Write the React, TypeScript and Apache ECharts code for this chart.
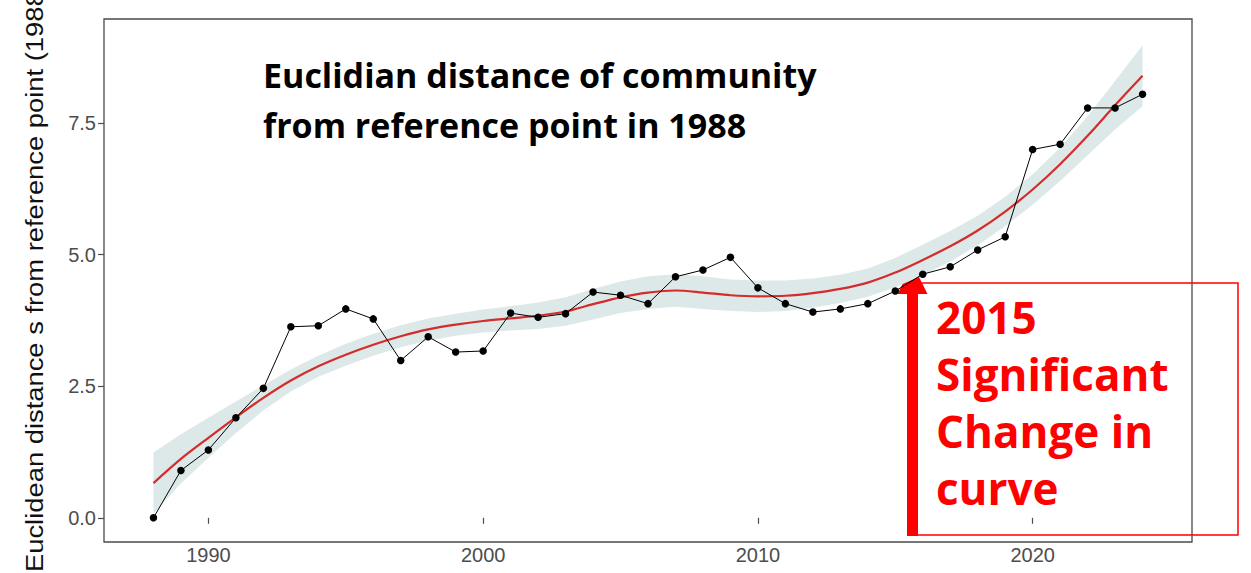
import React, { useEffect, useRef } from "react";
import * as echarts from "echarts";

const years = [
  1988, 1989, 1990, 1991, 1992, 1993, 1994, 1995, 1996, 1997, 1998, 1999,
  2000, 2001, 2002, 2003, 2004, 2005, 2006, 2007, 2008, 2009, 2010, 2011,
  2012, 2013, 2014, 2015, 2016, 2017, 2018, 2019, 2020, 2021, 2022, 2023, 2024,
];
const distance = [
  0.0, 0.9, 1.29, 1.9, 2.46, 3.63, 3.65, 3.97, 3.78, 2.99, 3.44, 3.15,
  3.17, 3.89, 3.81, 3.88, 4.29, 4.23, 4.07, 4.58, 4.71, 4.95, 4.37, 4.07,
  3.91, 3.97, 4.07, 4.31, 4.63, 4.77, 5.09, 5.34, 7.0, 7.1, 7.79, 7.79, 8.05,
];
const fitted = [
  0.66, 1.12, 1.52, 1.91, 2.28, 2.61, 2.88, 3.1, 3.29, 3.45, 3.58, 3.67,
  3.74, 3.79, 3.84, 3.92, 4.06, 4.19, 4.28, 4.32, 4.28, 4.23, 4.21, 4.22,
  4.27, 4.35, 4.47, 4.66, 4.9, 5.16, 5.46, 5.82, 6.24, 6.72, 7.26, 7.84, 8.4,
];
const ribbonLow = [
  0.08, 0.65, 1.14, 1.61, 2.04, 2.4, 2.68, 2.89, 3.08, 3.24, 3.37, 3.46,
  3.52, 3.56, 3.59, 3.65, 3.77, 3.89, 3.97, 4.01, 3.97, 3.93, 3.91, 3.93,
  3.99, 4.08, 4.2, 4.38, 4.61, 4.87, 5.18, 5.54, 5.95, 6.4, 6.89, 7.38, 7.82,
];
const ribbonHigh = [
  1.24, 1.59, 1.9, 2.21, 2.52, 2.82, 3.08, 3.31, 3.5, 3.66, 3.79, 3.88,
  3.96, 4.02, 4.09, 4.19, 4.35, 4.49, 4.59, 4.63, 4.59, 4.53, 4.51, 4.51,
  4.55, 4.62, 4.74, 4.94, 5.19, 5.45, 5.74, 6.1, 6.53, 7.04, 7.63, 8.3, 8.98,
];
const xTicks = [1990, 2000, 2010, 2020];
const yTicks = [0, 2.5, 5, 7.5];
const titleLines = ["Euclidian distance of community", "from reference point in 1988"];
const noteLines = ["2015", "Significant", "Change in", "curve"];
const yAxisTitle = "Euclidean distance s from reference point (1988)";

export default function App() {
  const ref = useRef<HTMLDivElement>(null);

  useEffect(() => {
    const el = ref.current;
    if (!el) return;
    const chart = echarts.init(el, null, { renderer: "svg" });

    const axisGrey = "#4d4d4d";
    const tickFont = "Liberation Sans";

    const option: any = {
      animation: false,
      backgroundColor: "#ffffff",
      grid: {
        left: 104,
        right: 59,
        top: 19,
        bottom: 31,
        show: true,
        borderColor: "#4a4a4a",
        borderWidth: 1.3,
        backgroundColor: "transparent",
      },
      xAxis: {
        type: "value",
        min: 1986.2,
        max: 2025.8,
        axisLine: { show: false },
        splitLine: { show: false },
        axisTick: {
          show: true,
          customValues: xTicks,
          length: 6,
          lineStyle: { color: axisGrey, width: 1.2 },
        },
        axisLabel: {
          customValues: xTicks,
          fontSize: 20,
          fontFamily: tickFont,
          color: axisGrey,
          margin: 3,
          formatter: (v: number) => String(v),
        },
      },
      yAxis: {
        type: "value",
        min: -0.46,
        max: 9.48,
        axisLine: { show: false },
        splitLine: { show: false },
        axisTick: {
          show: true,
          customValues: yTicks,
          length: 6,
          lineStyle: { color: axisGrey, width: 1.2 },
        },
        axisLabel: {
          customValues: yTicks,
          fontSize: 20,
          fontFamily: tickFont,
          color: axisGrey,
          margin: 8,
          formatter: (v: number) => v.toFixed(1),
        },
      },
      series: [
        {
          type: "custom",
          name: "ribbon",
          silent: true,
          z: 1,
          data: years.map((y, i) => [y, ribbonLow[i], ribbonHigh[i]]),
          encode: { x: 0, y: [1, 2] },
          renderItem: (params: any, api: any) => {
            if (params.dataIndex !== 0) return null;
            const upper = years.map((y, i) => api.coord([y, ribbonHigh[i]]));
            const lower = years.map((y, i) => api.coord([y, ribbonLow[i]])).reverse();
            return {
              type: "polygon",
              shape: { points: upper.concat(lower) },
              style: { fill: "#dde9e8", stroke: "none" },
            };
          },
        },
        {
          type: "line",
          name: "fit",
          z: 3,
          data: years.map((y, i) => [y, fitted[i]]),
          smooth: 0.3,
          symbol: "none",
          lineStyle: { color: "#d42b2b", width: 2.2 },
        },
        {
          type: "line",
          name: "distance",
          z: 4,
          data: years.map((y, i) => [y, distance[i]]),
          symbol: "circle",
          symbolSize: 7.5,
          itemStyle: { color: "#000000" },
          lineStyle: { color: "#000000", width: 1 },
        },
      ],
      graphic: [
        {
          type: "text",
          x: 35,
          y: 572,
          rotation: Math.PI / 2,
          scaleX: 1.14,
          style: {
            text: yAxisTitle,
            font: "24px 'Liberation Sans'",
            fill: "#111111",
            textAlign: "left",
            textVerticalAlign: "middle",
          },
        },
        ...titleLines.map((t, i) => ({
          type: "text",
          x: 263,
          y: 92 + i * 50,
          style: {
            text: t,
            font: "bold 34px 'Open Sans'",
            fill: "#000000",
            textAlign: "left",
            textVerticalAlign: "bottom",
          },
        })),
        {
          type: "rect",
          shape: { x: 917, y: 283, width: 321, height: 252 },
          style: { fill: "none", stroke: "#ff0000", lineWidth: 1.5 },
        },
        {
          type: "rect",
          shape: { x: 907, y: 290, width: 11, height: 246 },
          style: { fill: "#ff0000" },
        },
        {
          type: "polygon",
          shape: { points: [[912.5, 264], [897.5, 294], [927.5, 294]] },
          style: { fill: "#ff0000" },
        },
        ...noteLines.map((t, i) => ({
          type: "text",
          x: 936,
          y: 339 + i * 57,
          style: {
            text: t,
            font: "bold 44px 'Open Sans'",
            fill: "#ff0000",
            textAlign: "left",
            textVerticalAlign: "bottom",
          },
        })),
      ],
    };

    chart.setOption(option);
    return () => {
      chart.dispose();
    };
  }, []);

  return (
    <div
      ref={ref}
      style={{ position: "fixed", left: 0, top: 0, width: 1251, height: 573, background: "#fff" }}
    />
  );
}
